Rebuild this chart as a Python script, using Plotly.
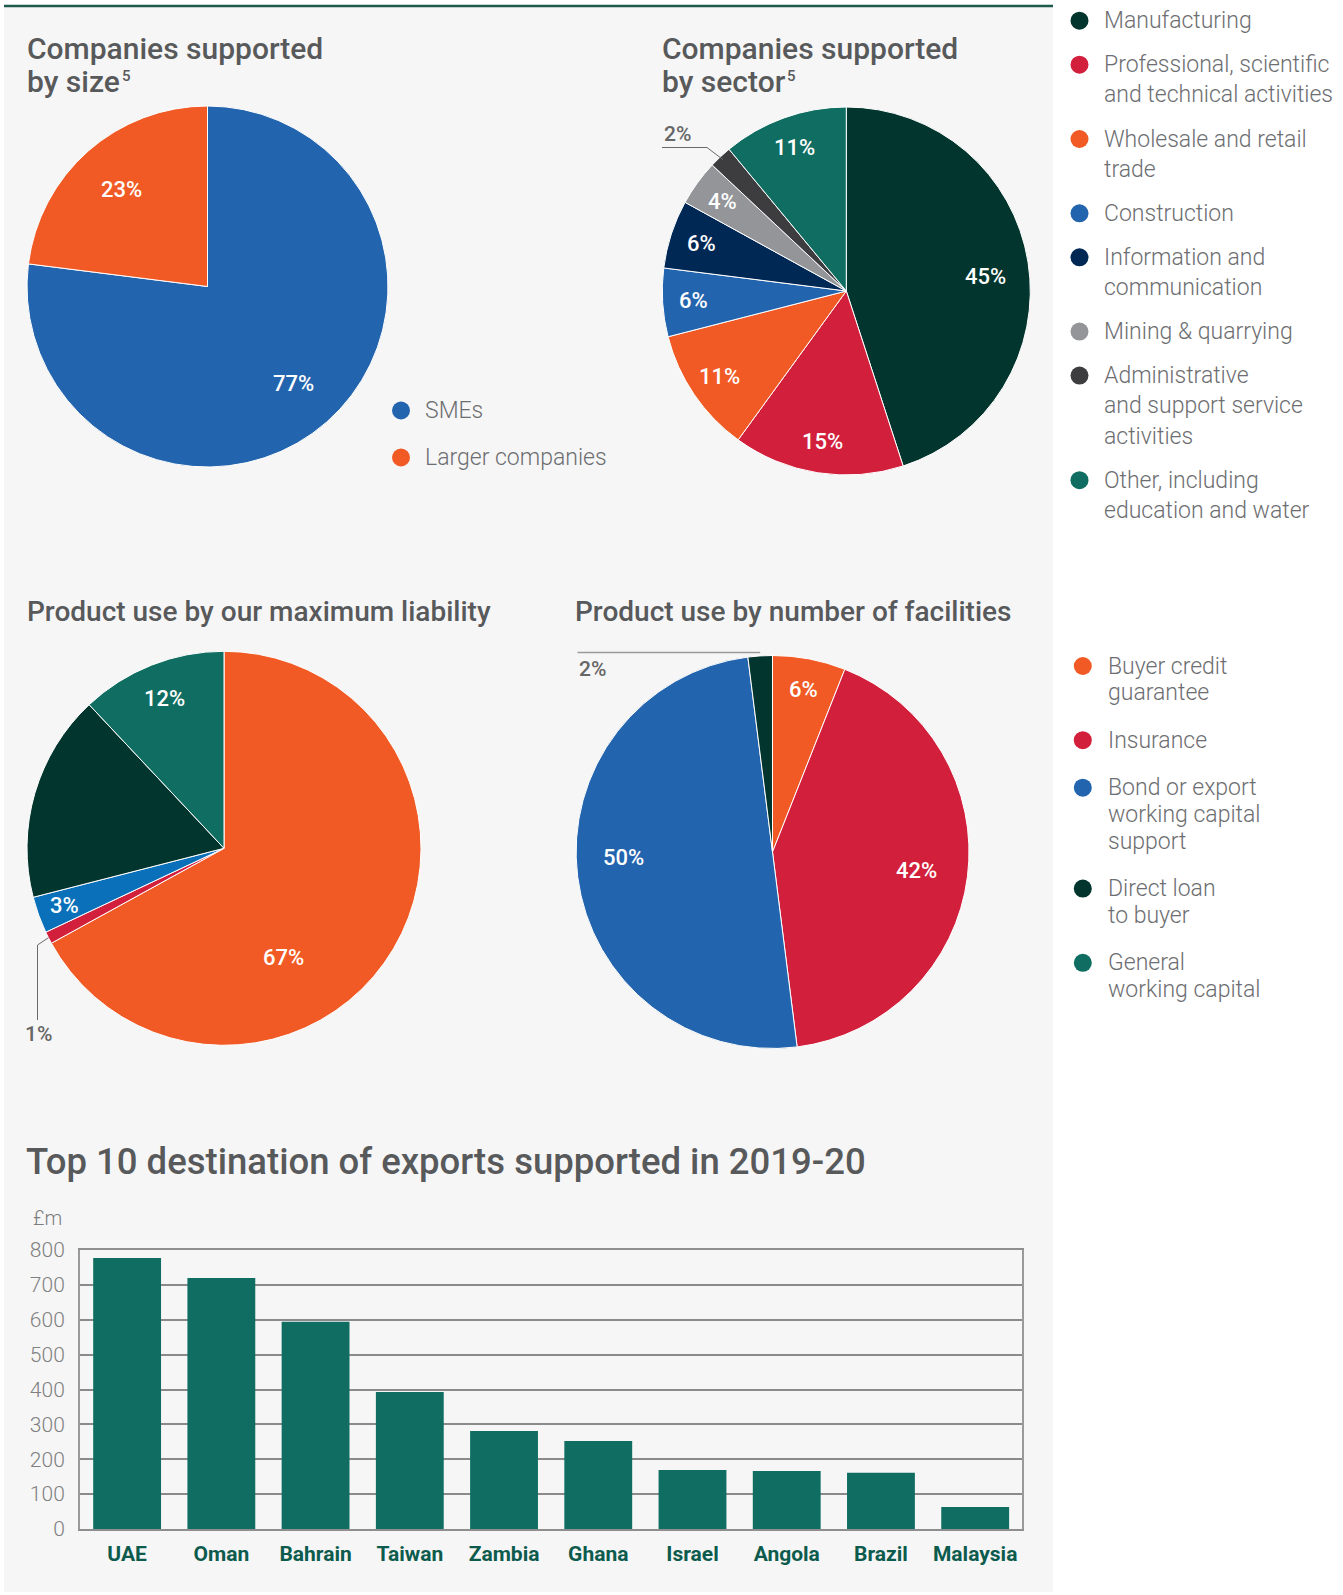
import math
import plotly.graph_objects as go

W, H = 1343, 1595

# ---------------- data ----------------
size_labels = ["SMEs", "Larger companies"]
size_values = [77, 23]

sector_labels = [
    "Manufacturing",
    "Professional, scientific<br>and technical activities",
    "Wholesale and retail<br>trade",
    "Construction",
    "Information and<br>communication",
    "Mining & quarrying",
    "Administrative<br>and support service<br>activities",
    "Other, including<br>education and water",
]
sector_values = [45, 15, 11, 6, 6, 4, 2, 11]

product_labels = [
    "Buyer credit<br>guarantee",
    "Insurance",
    "Bond or export<br>working capital<br>support",
    "Direct loan<br>to buyer",
    "General<br>working capital",
]
liability_values = [67, 1, 3, 17, 12]
facility_values = [6, 42, 50, 2, 0]

countries = ["UAE", "Oman", "Bahrain", "Taiwan", "Zambia",
             "Ghana", "Israel", "Angola", "Brazil", "Malaysia"]
exports_gbp_m = [777, 720, 594, 393, 281, 252, 169, 166, 161, 63]
y_ticks = [0, 100, 200, 300, 400, 500, 600, 700, 800]

# ---------------- styling ----------------
ORANGE = "#f15a24"
RED = "#d21f3c"
BLUE = "#2364ae"
BLUE_BRIGHT = "#0a70b9"
DKGREEN = "#02352d"
NAVY = "#002855"
GREY = "#939598"
CHARCOAL = "#3d3d40"
TEAL = "#0f6e61"
PANEL = "#f6f6f6"
TITLE_GREY = "#58595b"
TEXT_GREY = "#6d6e71"

size_colors = [BLUE, ORANGE]
sector_colors = [DKGREEN, RED, ORANGE, BLUE, NAVY, GREY, CHARCOAL, TEAL]
liability_colors = [ORANGE, RED, BLUE_BRIGHT, DKGREEN, TEAL]
facility_colors = [ORANGE, RED, BLUE, DKGREEN, TEAL]
product_legend_colors = [ORANGE, RED, BLUE, DKGREEN, TEAL]

FONT = "Roboto"
TITLE_FONT = dict(family=FONT, size=30, color=TITLE_GREY, weight=500)
SUP_FONT = dict(family=FONT, size=15, color=TITLE_GREY, weight=500)
SUB_FONT = dict(family=FONT, size=28, color=TITLE_GREY, weight=500)
BIG_FONT = dict(family=FONT, size=36.5, color=TITLE_GREY, weight=500)
LEGEND_FONT = dict(family=FONT, size=23, color=TEXT_GREY, weight=300)
INSIDE_FONT = dict(family=FONT, size=22, color="white", weight=500)
OUTSIDE_FONT = dict(family=FONT, size=21, color="#666666", weight=500)


def fx(x):
    return x / W


def fy(y):
    return 1 - y / H


def polar(cx, cy, r, theta, k):
    """Point at clockwise angle theta (deg, from 12 o'clock), radius k*r."""
    t = math.radians(theta)
    return cx + k * r * math.sin(t), cy - k * r * math.cos(t)


def mid_angles(values):
    total = float(sum(values))
    out, cum = [], 0.0
    for v in values:
        out.append((cum + v / 2.0) / total * 360.0)
        cum += v
    return out


fig = go.Figure()
shapes = []
annotations = []


def text(x, y, s, font, xanchor="left", yanchor="middle"):
    annotations.append(dict(x=fx(x), y=fy(y), xref="paper", yref="paper",
                            text=s, showarrow=False, font=font,
                            xanchor=xanchor, yanchor=yanchor))


def seg(points, color="#6a6a6a", width=1):
    for (x0, y0), (x1, y1) in zip(points[:-1], points[1:]):
        shapes.append(dict(type="line", xref="paper", yref="paper",
                           x0=fx(x0), y0=fy(y0), x1=fx(x1), y1=fy(y1),
                           line=dict(color=color, width=width)))


# background panel and top rule
shapes.append(dict(type="rect", xref="paper", yref="paper", layer="below",
                   x0=fx(4), x1=fx(1053), y0=fy(1592), y1=fy(7),
                   fillcolor=PANEL, line=dict(width=0)))
shapes.append(dict(type="line", xref="paper", yref="paper",
                   x0=fx(4), x1=fx(1053), y0=fy(6), y1=fy(6),
                   line=dict(color="#1d5a4b", width=2.5)))

# ---------------- pies ----------------
# label placement: default radius fraction k on the slice bisector,
# with optional (angle shift, radius fraction) per slice
pies = [
    dict(values=size_values, colors=size_colors, cx=207.5, cy=286.5, r=180.5,
         k=0.72, hide=set(), outside=set(), nudge={}),
    dict(values=sector_values, colors=sector_colors, cx=846.3, cy=291, r=184,
         k=0.83, hide=set(), outside={6}, nudge={0: (3.0, 0.76)}),
    dict(values=liability_values, colors=liability_colors, cx=224, cy=848.3, r=197,
         k=0.86, hide={3}, outside={1}, nudge={0: (31.0, 0.63), 4: (0.0, 0.82)}),
    dict(values=facility_values, colors=facility_colors, cx=772.5, cy=852, r=196.5,
         k=0.74, hide={4}, outside={3}, nudge={0: (0.0, 0.84), 2: (5.0, 0.76)}),
]

for p in pies:
    cx, cy, r = p["cx"], p["cy"], p["r"]
    fig.add_trace(go.Pie(
        values=p["values"], sort=False, direction="clockwise", rotation=0,
        marker=dict(colors=p["colors"], line=dict(color="white", width=1)),
        textinfo="none", hoverinfo="skip", showlegend=False,
        domain=dict(x=[fx(cx - r), fx(cx + r)], y=[fy(cy + r), fy(cy - r)]),
    ))
    mids = mid_angles(p["values"])
    for i, (v, a) in enumerate(zip(p["values"], mids)):
        if i in p["hide"] or i in p["outside"] or v == 0:
            continue
        da, k = p["nudge"].get(i, (0.0, p["k"]))
        x, y = polar(cx, cy, r, a + da, k)
        text(x, y, f"{v}%", INSIDE_FONT, xanchor="center")
    p["mids"] = mids

# outside callouts
p = pies[1]
ex, ey = polar(p["cx"], p["cy"], p["r"], p["mids"][6], 0.98)
seg([(662, 147.5), (707, 147.5), (ex, ey)])
text(662, 134, f"{sector_values[6]}%", OUTSIDE_FONT)

p = pies[2]
ex, ey = polar(p["cx"], p["cy"], p["r"], p["mids"][1], 1.0)
seg([(ex, ey), (37.5, 945), (37.5, 1020)])
text(38, 1034, f"{liability_values[1]}%", OUTSIDE_FONT, xanchor="center")

p = pies[3]
ex, ey = polar(p["cx"], p["cy"], p["r"], p["mids"][3], 1.0)
seg([(577.5, 652.5), (ex, 652.5)], color="#9a9a9a", width=1.5)
text(577, 669, f"{facility_values[3]}%", OUTSIDE_FONT)

# ---------------- titles ----------------
text(25, 49, "Companies supported", TITLE_FONT)
text(25, 81, "by size", TITLE_FONT)
text(119.5, 76, "5", SUP_FONT)
text(660, 49, "Companies supported", TITLE_FONT)
text(660, 81, "by sector", TITLE_FONT)
text(785, 76, "5", SUP_FONT)
text(25, 612, "Product use by our maximum liability", SUB_FONT)
text(573, 612, "Product use by number of facilities", SUB_FONT)
text(24, 1161, "Top 10 destination of exports supported in 2019-20", BIG_FONT)


# ---------------- legends ----------------
def legend(labels, colors, mx, tx, y0, line_step, item_gap, dot=18):
    y = y0
    for lab, col in zip(labels, colors):
        shapes.append(dict(type="circle", xref="paper", yref="paper",
                           x0=fx(mx - dot / 2), x1=fx(mx + dot / 2),
                           y0=fy(y + dot / 2), y1=fy(y - dot / 2),
                           fillcolor=col, line=dict(width=0)))
        lines = lab.split("<br>")
        for j, ln in enumerate(lines):
            text(tx, y + j * line_step, ln, LEGEND_FONT)
        y += (len(lines) - 1) * line_step + item_gap


legend(size_labels, size_colors, 401, 423, 410.5, 30, 47)
legend(sector_labels, sector_colors, 1079.5, 1102, 20.7, 30.3, 44)
legend(product_labels, product_legend_colors, 1082.8, 1106, 666, 26.7, 47.5)

# ---------------- bar chart ----------------
fig.add_trace(go.Bar(
    x=countries, y=exports_gbp_m, marker=dict(color=TEAL, line=dict(width=0)),
    hoverinfo="skip", showlegend=False,
))

text(31, 1218, "£m", dict(family=FONT, size=20, color="#7d7d7d", weight=300))

fig.update_layout(
    xaxis=dict(domain=[fx(80), fx(1022.3)], showgrid=False, showline=True,
               mirror=True, linecolor="#8e8e8e", linewidth=2, ticks="",
               tickfont=dict(family=FONT, size=21, color="#0c5b4d", weight=700),
               ticklabelstandoff=5, automargin=False, fixedrange=True),
    yaxis=dict(domain=[fy(1529), fy(1250)], range=[0, 800], tickvals=y_ticks,
               showgrid=True, gridcolor="#8a8a8a", gridwidth=1.5,
               showline=True, mirror=True, linecolor="#9a9a9a", linewidth=2,
               zeroline=False, ticks="",
               tickfont=dict(family=FONT, size=21, color="#808080", weight=300),
               ticklabelstandoff=9, automargin=False, fixedrange=True),
    bargap=0.28,
)

fig.update_layout(
    width=W, height=H, autosize=False,
    margin=dict(l=0, r=0, t=0, b=0, pad=0, autoexpand=False),
    paper_bgcolor="white", plot_bgcolor="rgba(0,0,0,0)",
    showlegend=False, shapes=shapes, annotations=annotations,
)

fig.write_html("out.html")
